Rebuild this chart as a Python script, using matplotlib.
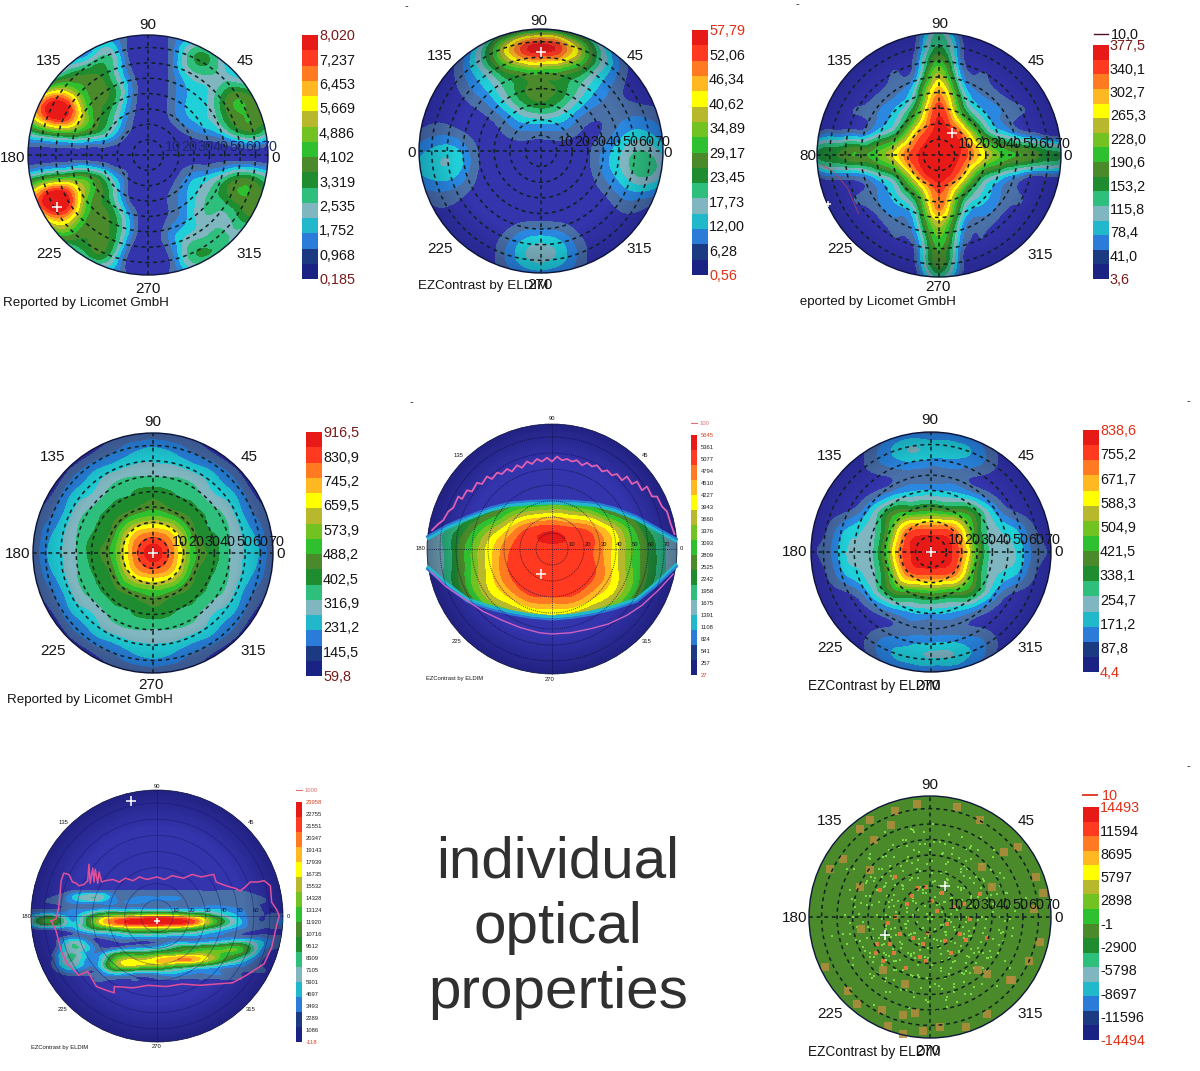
import numpy as np
import matplotlib
matplotlib.use('Agg')
import matplotlib.pyplot as plt
from matplotlib.colors import LinearSegmentedColormap
from matplotlib.patches import Circle, Polygon, Rectangle
from matplotlib.tri import Triangulation, UniformTriRefiner

W, H = 1200, 1071
plt.rcParams['font.family'] = ['Liberation Sans', 'DejaVu Sans']

# colour bands, bottom to top
BAR_COLORS = ['#1a2384', '#1b3a82', '#2a7cd8', '#22b8cc', '#7fb6bf', '#2fbf7c', '#1f8c30', '#4a8a2a',
              '#2fc030', '#72c222', '#b8b82c', '#ffff00', '#ffb822', '#ff7a20', '#ff3a20', '#e81a18']
FIELD_COLORS = ['#3434ac', '#4a70a8', '#2a88e0', '#20d0d8'] + BAR_COLORS[4:]

# colour bar labels
TICKS_1 = ['8,020', '7,237', '6,453', '5,669', '4,886', '4,102', '3,319', '2,535', '1,752', '0,968', '0,185']
TICKS_2 = ['57,79', '52,06', '46,34', '40,62', '34,89', '29,17', '23,45', '17,73', '12,00', '6,28', '0,56']
TICKS_3 = ['377,5', '340,1', '302,7', '265,3', '228,0', '190,6', '153,2', '115,8', '78,4', '41,0', '3,6']
TICKS_4 = ['916,5', '830,9', '745,2', '659,5', '573,9', '488,2', '402,5', '316,9', '231,2', '145,5', '59,8']
TICKS_5 = ['5645', '5361', '5077', '4794', '4510', '4227', '3943', '3660', '3376', '3093', '2809', '2525',
           '2242', '1958', '1675', '1391', '1108', '824', '541', '257', '27']
TICKS_6 = ['838,6', '755,2', '671,7', '588,3', '504,9', '421,5', '338,1', '254,7', '171,2', '87,8', '4,4']
TICKS_7 = ['23958', '22755', '21551', '20347', '19143', '17939', '16735', '15532', '14328', '13124', '11920',
           '10716', '9512', '8309', '7105', '5901', '4697', '3493', '2289', '1086', '-118']
TICKS_8 = ['14493', '11594', '8695', '5797', '2898', '-1', '-2900', '-5798', '-8697', '-11596', '-14494']

GRID_X = [-1, -.83, -.67, -.5, -.33, -.17, 0, .17, .33, .5, .67, .83, 1]
GRID_Y = [1, .83, .67, .5, .33, .17, 0, -.17, -.33, -.5, -.67, -.83, -1]

# band at the grid crossings
FIELD_1 = [
    [0, 0, 0, 1, 2, 1, 0, 1, 2, 2, 1, 0, 0],
    [0, 0, 2, 3, 5, 1, 0, 1, 5, 6, 3, 0, 0],
    [0, 3, 6, 7, 6, 2, 0, 1, 4, 5, 4, 2, 0],
    [7, 12, 12, 8, 7, 3, 0, 1, 3, 4, 7, 7, 5],
    [10, 15, 15, 9, 6, 2, 0, 1, 3, 4, 7, 8, 7],
    [4, 6, 7, 6, 4, 1, 0, 0, 1, 2, 4, 6, 4],
    [0, 0, 0, 0, 0, 0, 0, 0, 0, 0, 0, 0, 0],
    [4, 6, 7, 7, 4, 1, 0, 0, 2, 3, 5, 6, 4],
    [11, 15.5, 15, 9, 6, 1, 0, 1, 3, 5, 7, 8, 6],
    [8, 13, 13, 8, 7, 3, 0, 1, 3, 5, 5, 7, 5],
    [0, 6, 8, 7, 7, 3, 0, 2, 4, 5, 5, 3, 0],
    [0, 0, 3, 6, 6, 1, 0, 1, 5, 6, 4, 0, 0],
    [0, 0, 0, 1, 2, 1, 0, 1, 2, 2, 1, 0, 0],
]
FIELD_2 = [
    [0, 0, 0, 0, 2, 5, 6, 5, 2, 0, 0, 0, 0],
    [0, 0, 1, 4.5, 10, 14, 15.5, 14, 10, 4.5, 1, 0, 0],
    [0, 0, 1.5, 4, 7, 8.5, 9, 8.5, 7, 4, 1.5, 0, 0],
    [0, 0, 1, 2.5, 4.5, 6.5, 7.5, 6.5, 4.5, 2.5, 1, 0, 0],
    [0, .5, .5, 1, 2.5, 4.5, 5.5, 4.5, 2.5, 1.5, 1.5, 1.5, 1],
    [1, 1.5, 1, .5, 1, 2, 2, 2, 1, 1, 2.5, 3, 2],
    [2.5, 3.5, 3, .8, .3, .3, .3, .3, .5, 2, 4, 5, 3.5],
    [3, 3.7, 3, .8, .3, .3, .3, .3, .3, 2, 4, 5.5, 4],
    [1.5, 2, 1.5, .5, .3, .3, .3, .3, .3, 1, 2.5, 3, 2],
    [0, .8, .5, .3, .3, .3, .3, .3, .3, .3, 1, .8, 0],
    [0, 0, 0, .3, .8, 2, 2.5, 2, .8, .3, 0, 0, 0],
    [0, 0, 0, 0, 1.5, 3.5, 4.5, 3.5, 1.5, 0, 0, 0, 0],
    [0, 0, 0, 0, 1, 2, 2.5, 2, 1, 0, 0, 0, 0],
]
FIELD_3 = [
    [0, 0, 0, 0, 0, 1, 5, 1, 0, 0, 0, 0, 0],
    [0, 0, 0, 0, 0, 2, 7, 2, 0, 0, 0, 0, 0],
    [0, 0, 0, 0, 1, 3, 10, 3, 1, 0, 0, 0, 0],
    [0, 0, 0, 1, 2, 6, 13, 6, 2, 1, 0, 0, 0],
    [0, 0, 1, 2, 4, 9, 15, 9, 4, 2, 1, 0, 0],
    [1, 2, 2, 4, 7, 13, 15.5, 14, 8, 4, 2, 1, 0],
    [6, 7, 8, 9, 12, 15, 15.5, 15, 12, 9, 8, 7, 6],
    [1, 2, 2, 4, 7, 13, 15.5, 13, 7, 4, 2, 1, 1],
    [0, 0, 1, 2, 4, 8, 14, 8, 4, 2, 1, 0, 0],
    [0, 0, 0, 1, 2, 5, 12, 5, 2, 1, 0, 0, 0],
    [0, 0, 0, 0, 1, 3, 9, 3, 1, 0, 0, 0, 0],
    [0, 0, 0, 0, 0, 2, 8, 2, 0, 0, 0, 0, 0],
    [0, 0, 0, 0, 0, 1, 5, 1, 0, 0, 0, 0, 0],
]
FIELD_4 = [
    [0, 0, 0, 0, 1, 1, 1, 1, 1, 0, 0, 0, 0],
    [0, 0, 0, 1, 2, 3, 3.5, 3, 2, 1, 0, 0, 0],
    [0, 0, 1.5, 3, 4, 4.6, 4.6, 4.6, 4, 3, 1.5, 0, 0],
    [0, 1, 3, 4, 5.5, 6, 6.5, 6, 5.5, 4, 3, 1, 0],
    [1, 2, 4, 5.5, 6.5, 7.5, 8.5, 7.5, 6.5, 5.5, 4, 2, 1],
    [1, 3, 4.6, 6, 7.5, 11.5, 13, 11.5, 7.5, 6, 4.6, 3, 1],
    [1, 3.5, 4.6, 6.5, 8.5, 13, 15.5, 13, 8.5, 6.5, 4.6, 3.5, 1],
    [1, 3, 4.6, 6, 7.5, 11.5, 13, 11.5, 7.5, 6, 4.6, 3, 1],
    [1, 2, 4, 5.5, 6.5, 7.5, 8.5, 7.5, 6.5, 5.5, 4, 2, 1],
    [0, 1, 3, 4, 5.5, 6, 6.5, 6, 5.5, 4, 3, 1, 0],
    [0, 0, 1.5, 3, 4, 4.6, 4.6, 4.6, 4, 3, 1.5, 0, 0],
    [0, 0, 0, 1, 2, 3, 3.5, 3, 2, 1, 0, 0, 0],
    [0, 0, 0, 0, 1, 1, 1, 1, 1, 0, 0, 0, 0],
]
FIELD_5 = [
    [3, 3, 3, 3, 3, 3, 3, 3, 3, 3, 3, 3, 3],
    [3, 3, 3, 3, 3, 3, 3, 3, 3, 3, 3, 3, 3],
    [3, 3, 3, 3, 3, 3, 3, 3, 3, 3, 3, 3, 3],
    [3, 3, 3, 4, 5, 6, 6, 6, 5, 4, 3, 3, 3],
    [3, 3, 5, 6, 8, 9, 9.5, 9, 8, 6, 5, 3, 3],
    [3.5, 5, 7, 9.5, 12, 14, 14.5, 14, 13, 10.5, 7.5, 5, 3.5],
    [4, 5.5, 8.5, 11.5, 14, 14.5, 14.6, 14.5, 14, 11.5, 8.5, 6, 4],
    [4, 5.5, 8.5, 11.5, 14.2, 14.6, 14.6, 14.6, 14.2, 11.5, 8.5, 6, 4],
    [3.5, 5, 8, 11, 13, 14.5, 14.6, 14.5, 13, 11, 8, 5, 3.5],
    [3, 3, 5, 8, 9.5, 11, 11.5, 11, 9.5, 8, 5, 3, 3],
    [3, 3, 3, 4, 5, 6, 7, 6, 5, 4, 3, 3, 3],
    [3, 3, 3, 3, 3, 3, 3, 3, 3, 3, 3, 3, 3],
    [3, 3, 3, 3, 3, 3, 3, 3, 3, 3, 3, 3, 3],
]
FIELD_6 = [
    [0, 0, 0, 0, 1, 1.5, 1.5, 1.5, 1, 0, 0, 0, 0],
    [0, 0, 0, 1.5, 3, 4, 3.5, 3.5, 3, 1.5, 0, 0, 0],
    [0, 0, 0, 1, 1.5, 1.7, 1.5, 1.7, 1.5, 1, 0, 0, 0],
    [0, 0, 0, .8, 2, 3, 3.2, 3, 2, .8, 0, 0, 0],
    [0, .5, 1.2, 3.5, 7, 8, 8.5, 8, 7, 3.5, 1.2, .5, 0],
    [.5, 1.5, 3.5, 4.5, 9, 14, 14.5, 14, 9, 4.5, 3.5, 1.5, .5],
    [1, 2, 4.2, 4.6, 10.5, 15, 15.5, 15, 10.5, 4.6, 4.2, 2, 1],
    [.5, 1.5, 3.5, 4.5, 9, 14, 14.5, 14, 9, 4.5, 3.5, 1.5, .5],
    [0, .5, 1.2, 3.5, 7, 8, 8.5, 8, 7, 3.5, 1.2, .5, 0],
    [0, 0, 0, .8, 2, 3, 3.2, 3, 2, .8, 0, 0, 0],
    [0, 0, 0, 1, 1.5, 1.7, 1.5, 1.7, 1.5, 1, 0, 0, 0],
    [0, 0, 0, 1.5, 3, 3.5, 4, 4, 3, 1.5, 0, 0, 0],
    [0, 0, 0, 0, 1, 1.5, 1.5, 1.5, 1, 0, 0, 0, 0],
]
GRID_Y_7 = [.25, .2, .15, .1, .05, 0, -.05, -.1, -.15, -.2, -.25, -.3, -.35, -.4, -.45, -.5, -.55]
FIELD_7 = [
    [0, 0, 0, 0, 0, 0, 0, 0, 0, 0, 0, 0, 0],
    [0, 0, 1, 1, 1, 1, 1, 1, 1, 1, 1, 0, 0],
    [0, 1, 3, 5, 2, 2, 2, 2, 1.5, 1.5, 1.5, 1, 0],
    [0, 1, 2, 2, 2, 2, 1.5, 1.5, 1.5, 1.5, 1, 1, 0],
    [1, 1, 2, 2.5, 3, 3, 3, 3, 3, 3, 2, 1, 0],
    [3, 5, 2.5, 7, 10, 11, 12, 11, 9, 5, 2.5, 1, 2],
    [4, 8, 3, 9, 14, 15.5, 16, 15.5, 13, 7, 3, 1, 3],
    [1, 2, 2.5, 6, 8, 10, 10, 9, 7, 4, 2, 1, 1],
    [0, 0, 1, 2, 3, 4, 4, 3.5, 3, 2, 1, 1, 1],
    [0, 0, 4, 1, 1, 1, 1, 2, 2, 3, 4, 3, 1],
    [0, 0, 5, 2, 1, 2, 3, 6, 7, 8, 8, 3, 1],
    [0, 1, 5, 2, 6, 7, 8, 9, 10, 9, 7, 2, 0],
    [0, 1, 5, 2, 9, 11, 12, 13, 12, 8, 4, 1, 0],
    [0, 1, 4, 2, 9, 10, 9, 7, 5, 3, 2, 1, 0],
    [0, 0, 2, 1, 4, 3, 3, 3, 2, 2, 1, 1, 0],
    [0, 0, 0, 1, 1, 1, 1, 1, 1, 1, 1, 0, 0],
    [0, 0, 0, 0, 0, 0, 0, 0, 0, 0, 0, 0, 0],
]
FIELD_8 = [[7.5] * 13 for _ in GRID_Y]

# lens outline of map 5
LENS_X = [-1, -.84, -.68, -.5, -.34, -.17, 0, .17, .34, .5, .68, .84, 1]
LENS_TOP = [.08, .17, .24, .31, .35, .365, .37, .365, .35, .31, .24, .15, .06]
LENS_BOTTOM = [-.14, -.28, -.40, -.46, -.50, -.53, -.545, -.53, -.50, -.46, -.40, -.27, -.12]

CURVE_5A_X = [-.96, -.91, -.87, -.83, -.79, -.75, -.72, -.68, -.64, -.6, -.56, -.52, -.48, -.44, -.4, -.36, -.32, -.28,
              -.24, -.2, -.16, -.12, -.08, -.04, 0, .04, .08, .12, .16, .2, .24, .28, .32, .36, .4, .44, .48, .52, .56,
              .6, .64, .68, .72, .76, .8, .84, .88, .92, .95, .98]
CURVE_5A_Y = [.15, .2, .23, .3, .33, .42, .4, .47, .46, .53, .52, .58, .56, .61, .6, .64, .62, .67, .65, .7, .68, .72,
              .7, .73, .7, .74, .71, .72, .7, .71, .67, .69, .66, .67, .62, .63, .59, .6, .55, .58, .52, .54, .47, .5,
              .42, .42, .34, .3, .2, .12]
CURVE_5B_X = [-.97, -.85, -.7, -.55, -.4, -.25, -.1, 0, .15, .3, .45, .6, .72, .85, .97]
CURVE_5B_Y = [-.18, -.3, -.4, -.5, -.57, -.63, -.67, -.68, -.67, -.64, -.6, -.53, -.45, -.33, -.2]
CURVE_7_X = [-.84, -.8, -.78, -.76, -.74, -.7, -.67, -.64, -.62, -.58, -.55, -.54, -.53, -.51, -.5, -.49, -.47, -.46,
             -.44, -.41, -.35, -.3, -.25, -.19, -.14, -.08, 0, .06, .12, .21, .28, .35, .45, .47, .52, .58, .62, .66,
             .7, .74, .8, .85, .9, .91, .95, .97, .95, .91, .85, .71, .6, .47, .34, .2, .07, -.07, -.19, -.34, -.34,
             -.4, -.48, -.55, -.62, -.71, -.76, -.8, -.84]
CURVE_7_Y = [-.04, -.02, .07, .28, .34, .33, .27, .26, .24, .25, .28, .41, .26, .38, .27, .37, .26, .35, .27, .28, .29,
             .27, .3, .28, .31, .29, .31, .29, .32, .3, .33, .31, .33, .27, .25, .23, .22, .2, .23, .27, .27, .28, .24,
             .11, .05, 0, -.07, -.25, -.38, -.47, -.53, -.54, -.55, -.54, -.56, -.55, -.57, -.56, -.61, -.59, -.56,
             -.44, -.47, -.38, -.28, -.12, -.04]

# speckles of map 8, unit circle coordinates
SPECK_ORANGE_X = [-.29, -.5, -.58, -.46, -.32, -.11, .22, .41, .61, .73, .43, .88, .93, .86, .91, .82, .68, .47, .3,
                  .08, -.06, -.22, -.35, -.4, -.22, -.12, -.68, -.6, -.87, -.83, -.72, -.5, -.29, -.41, -.58, -.19,
                  -.28, -.03, .06, .14, .25, .3, .4, .47, -.39, -.33, -.25, -.14, -.06, -.08, -.03, .17, -.21, -.39,
                  -.57, -.44, .51, .41, .28, .47, .66, -.15, -.1, .02, .1, .2, -.45, -.35, -.3, -.02, .12, .33, -.2]
SPECK_ORANGE_Y = [.88, .8, .73, .64, .76, .93, .91, .8, .54, .58, .41, .33, .2, .07, -.21, -.36, -.52, -.8, -.91,
                  -.91, -.94, -.97, -.9, -.77, -.81, -.79, -.61, -.72, -.41, .4, .48, .39, .33, .22, .25, .11, 0,
                  .25, .05, -.06, -.14, -.19, -.44, -.47, -.36, -.22, -.14, -.17, -.22, -.33, -.36, -.3, -.55, -.44,
                  -.1, -.22, .25, .19, .11, -.17, -.52, .17, .24, .13, .2, .08, -.3, -.05, -.3, -.13, -.2, -.02, -.42]
SPECK_GREEN_X = [-.7, -.62, -.55, -.48, -.4, -.34, -.26, -.18, -.1, -.02, .06, .14, .22, .3, .38, .46, .54, .62, .7,
                 -.66, -.58, -.5, -.42, -.36, -.28, -.2, -.12, -.04, .04, .12, .2, .28, .36, .44, .52, .6, .68,
                 -.6, -.52, -.44, -.36, -.3, -.22, -.14, -.06, .02, .1, .18, .26, .34, .42, .5, .58, .64,
                 -.54, -.46, -.38, -.3, -.24, -.16, -.08, 0, .08, .16, .24, .32, .4, .48, .56,
                 -.5, -.4, -.32, -.22, -.1, .02, .14, .26, .38, .5, -.44, -.3, -.16, 0, .16, .3, .44,
                 -.3, -.1, .1, .3, -.2, 0, .2, -.64, -.5, .52, .66, -.08, .08, -.36, .36, -.14, .14]
SPECK_GREEN_Y = [.02, .14, -.04, .1, -.02, .12, .02, -.03, .07, -.02, .1, -.01, .06, -.04, .08, -.02, .09, -.03, .05,
                 -.14, -.2, -.12, -.17, -.1, -.15, -.09, -.13, -.17, -.1, -.12, -.08, -.14, -.09, -.13, -.18, -.12, -.16,
                 .24, .3, .22, .28, .18, .23, .16, .2, .14, .19, .16, .22, .17, .24, .18, .26, .2,
                 -.28, -.33, -.3, -.36, -.26, -.32, -.27, -.3, -.26, -.34, -.28, -.33, -.26, -.34, -.3,
                 .36, .4, .34, .38, .32, .36, .31, .37, .33, .39, -.46, -.44, -.48, -.43, -.47, -.45, -.42,
                 .5, .47, .52, .46, -.6, -.58, -.62, -.34, .48, .5, -.42, .6, .62, -.62, -.58, .72, -.74]

# layout in reference pixels
MAPS = [
    dict(field=FIELD_1, cx=148, cy=155, r=120),
    dict(field=FIELD_2, cx=541, cy=151, r=122),
    dict(field=FIELD_3, cx=939, cy=155, r=122),
    dict(field=FIELD_4, cx=153, cy=553, r=120),
    dict(field=FIELD_5, cx=552, cy=549, r=125),
    dict(field=FIELD_6, cx=931, cy=552, r=120),
    dict(field=FIELD_7, cx=157, cy=916, r=126),
    dict(field=FIELD_8, cx=930, cy=917, r=121),
]
BARS = [(302, 35, 279, TICKS_1), (692, 30, 275, TICKS_2), (1093, 45, 279, TICKS_3), (306, 432, 676, TICKS_4),
        (691, 435, 675, TICKS_5), (1083, 430, 672, TICKS_6), (296, 802, 1042, TICKS_7), (1083, 807, 1040, TICKS_8)]

fig = plt.figure(figsize=(12, 10.71), dpi=100)
over = fig.add_axes([0, 0, 1, 1], zorder=5)
over.set_xlim(0, W)
over.set_ylim(H, 0)
over.axis('off')
over.patch.set_alpha(0)


def put(x, y, s, size=11, color='#151515', ha='center'):
    over.text(x, y + size * .12, s, fontsize=size, color=color, ha=ha, va='center')


def draw_map(cfg, grid_y=GRID_Y):
    cx, cy, r = cfg['cx'], cfg['cy'], cfg['r']
    pad = 3 / r
    ax = fig.add_axes([(cx - r * (1 + pad)) / W, 1 - (cy + r * (1 + pad)) / H,
                       2 * r * (1 + pad) / W, 2 * r * (1 + pad) / H])
    ax.set_xlim(-1 - pad, 1 + pad)
    ax.set_ylim(-1 - pad, 1 + pad)
    ax.axis('off')
    disc = Circle((0, 0), 1, fc=FIELD_COLORS[0], ec='none')
    ax.add_patch(disc)
    xx, yy = np.meshgrid(GRID_X, grid_y)
    tri = Triangulation(xx.ravel(), yy.ravel())
    fine, z = UniformTriRefiner(tri).refine_field(np.array(cfg['field'], dtype=float).ravel(), subdiv=3)
    cs = ax.tricontourf(fine, np.clip(z, .01, 15.99), levels=np.arange(17), colors=FIELD_COLORS)
    cs.set_clip_path(disc)
    return ax, cs, disc


def polar_grid(ax, color='#102020', lw=1.1, dash=(2.5, 2.5), alpha=1, spokes=(0, 90)):
    t = np.linspace(0, 2 * np.pi, 240)
    for k in range(1, 8):
        ax.plot(k * .128 * np.cos(t), k * .128 * np.sin(t), color=color, lw=lw, ls=(0, dash), alpha=alpha)
    for a in spokes:
        c, s = np.cos(np.radians(a)), np.sin(np.radians(a))
        ax.plot([-c, c], [-s, s], color=color, lw=lw, ls=(0, dash), alpha=alpha)


def edge_shade(ax, disc, strength=.35):
    # maps get darker towards the rim
    lims = ax.get_xlim()
    g = np.linspace(-1, 1, 200)
    rr = np.hypot(*np.meshgrid(g, g))
    cmap = LinearSegmentedColormap.from_list('rim', [(0, 0, .2, 0), (0, 0, .2, 0), (0, 0, .2, strength)])
    im = ax.imshow(rr, extent=(-1, 1, -1, 1), cmap=cmap, vmin=.4, vmax=1, zorder=1.5, aspect='auto')
    im.set_clip_path(disc)
    ax.set_xlim(lims)
    ax.set_ylim(lims)


def cross(ax, x, y, size=7):
    ax.plot([x], [y], marker='+', color='white', ms=size, mew=1.1)


axes = []
for i, cfg in enumerate(MAPS):
    ax, cs, disc = draw_map(cfg, GRID_Y_7 if i == 6 else GRID_Y)
    axes.append((ax, disc))

# map 5: the field only lives inside the lens
ax5, disc5 = axes[4]
lens = np.column_stack([LENS_X + LENS_X[::-1], LENS_TOP + LENS_BOTTOM[::-1]])
for c in ax5.collections:
    c.set_clip_path(Polygon(lens, transform=ax5.transData))
ax5.plot(LENS_X, LENS_TOP, color=BAR_COLORS[3], lw=2.5, solid_capstyle='butt')
ax5.plot(LENS_X, LENS_BOTTOM, color=BAR_COLORS[3], lw=2.5, solid_capstyle='butt')
ax5.plot(LENS_X, [v + .02 for v in LENS_TOP], color=BAR_COLORS[2], lw=1.5)
ax5.plot(LENS_X, [v - .02 for v in LENS_BOTTOM], color=BAR_COLORS[2], lw=1.5)
for i in (4, 6):
    edge_shade(axes[i][0], axes[i][1])
for i in (1, 2, 3, 5):
    edge_shade(axes[i][0], axes[i][1], .22)

for i in (0, 1, 2, 3, 5, 7):
    polar_grid(axes[i][0])
polar_grid(axes[4][0], color='#08083a', lw=.7, dash=(1, 1.2), alpha=.75)
polar_grid(axes[6][0], color='#101060', lw=.6, dash=(4, .1), alpha=.45)

ax8 = axes[7][0]
gx, gy = np.array(SPECK_GREEN_X), np.array(SPECK_GREEN_Y)
ax8.scatter(np.r_[gx, -gy, -gx * .95, gy * 1.1], np.r_[gy, gx, -gy * .95, -gx * 1.1], s=4, marker='s',
            color='#7cd848', linewidths=0)
ox, oy = np.array(SPECK_ORANGE_X), np.array(SPECK_ORANGE_Y)
inner = np.hypot(ox, oy) < .55
ax8.scatter(ox[inner], oy[inner], s=12, marker='s', color='#dc7a3e', linewidths=0)
ax8.scatter(ox[~inner], oy[~inner], s=26, marker='s', color='#b28c3c', linewidths=0, alpha=.85)

axes[4][0].plot(CURVE_5A_X, CURVE_5A_Y, color='#e060b0', lw=1.3)
axes[4][0].plot(CURVE_5B_X, CURVE_5B_Y, color='#d060c0', lw=1)
axes[6][0].plot(CURVE_7_X, CURVE_7_Y, color='#e0509a', lw=1.1)

for i, (ax, disc) in enumerate(axes):
    ax.add_patch(Circle((0, 0), 1, fc='none', ec='#10183a', lw=1 if i not in (4, 6) else .5))

cross(axes[0][0], -.76, -.43)
cross(axes[1][0], 0, .81)
cross(axes[2][0], .11, .18)
cross(axes[2][0], -.91, -.4, 4)
cross(axes[3][0], 0, 0)
cross(axes[4][0], -.09, -.2)
cross(axes[5][0], 0, 0)
cross(axes[6][0], -.21, .91)
cross(axes[6][0], 0, -.04, 5)
cross(axes[7][0], .12, .26)
cross(axes[7][0], -.37, -.15)

# thin red arc on map 3
axes[2][0].plot([-.96, -.86, -.75, -.66], [-.08, -.14, -.27, -.48], color='#c04050', lw=.7, alpha=.7)

# colour bars
for n, (bx, top, bottom, ticks) in enumerate(BARS):
    small = n in (4, 6)
    bw = 6 if small else 16
    bax = fig.add_axes([bx / W, 1 - bottom / H, bw / W, (bottom - top) / H])
    for k, col in enumerate(BAR_COLORS):
        bax.barh(k + .5, 1, height=1, color=col)
    bax.set_xlim(0, 1)
    bax.set_ylim(0, 16)
    bax.axis('off')
    ys = np.linspace(top, bottom, len(ticks))
    for j, (y, t) in enumerate(zip(ys, ticks)):
        end = j in (0, len(ticks) - 1)
        if small:
            put(bx + bw + 4, y, t, size=4.2, color='#d84020' if end else '#202020', ha='left')
        else:
            col = ('#e03018' if n in (1, 5, 7) else '#7a1a1a') if end else '#151515'
            put(bx + bw + 1, y, t, size=10.4, color=col, ha='left')

# line legends
over.plot([1094, 1108], [34, 34], color='#501020', lw=1)
put(1111, 34, '10,0', size=10.4, ha='left')
over.plot([1083, 1097], [795, 795], color='#e03018', lw=1.3)
put(1102, 795, '10', size=10.4, color='#e03018', ha='left')
over.plot([691, 697], [423, 423], color='#e07070', lw=.8)
put(700, 423, '100', size=4.2, color='#e07070', ha='left')
over.plot([296, 302], [790, 790], color='#e07070', lw=.8)
put(305, 790, '1000', size=4.2, color='#e07070', ha='left')

# angle labels
ANGLES = ['90', '135', '45', '180', '0', '225', '315', '270']
ANGLES_2 = ['90', '135', '45', '0', '0', '225', '315', '270']
ANGLES_3 = ['90', '135', '45', '80', '0', '225', '315', '270']
ANGLE_POS = [
    [(148, 24), (49, 60), (245, 60), (13, 157), (276, 157), (49, 253), (249, 253), (148, 288)],
    [(539, 20), (440, 55), (635, 55), (412, 152), (668, 152), (440, 248), (639, 248), (540, 284)],
    [(940, 23), (840, 60), (1036, 60), (808, 155), (1068, 155), (840, 248), (1040, 254), (938, 286)],
    [(153, 421), (53, 456), (249, 456), (18, 553), (281, 553), (53, 650), (253, 650), (151, 684)],
    [(552, 418), (458, 455), (645, 455), (420, 548), (681, 548), (457, 641), (647, 641), (550, 679)],
    [(930, 419), (830, 455), (1026, 455), (795, 551), (1059, 551), (830, 647), (1030, 647), (928, 685)],
    [(157, 786), (63, 822), (251, 822), (26, 916), (288, 916), (63, 1009), (251, 1009), (157, 1046)],
    [(930, 784), (830, 820), (1026, 820), (795, 917), (1059, 917), (830, 1013), (1030, 1013), (928, 1050)],
]
for n, pos in enumerate(ANGLE_POS):
    names = ANGLES_2 if n == 1 else ANGLES_3 if n == 2 else ANGLES
    for (x, y), t in zip(pos, names):
        put(x, y, t, size=4.2 if n in (4, 6) else 11)

# radius labels squeezed on the 0 degree line
RADII = ['10', '20', '30', '40', '50', '60', '70']
RADII_POS = [(173, 146, 16, 10.4, '#1a2a6a'), (566, 141, 16, 10.4, '#151515'), (966, 143, 16, 10.4, '#151515'),
             (180, 541, 16, 10.4, '#151515'), (572, 544, 15.8, 4.2, '#151515'), (956, 539, 16, 10.4, '#151515'),
             (176, 910, 16, 4.2, '#10104a'), (956, 904, 16, 10.4, '#151515')]
for x0, y, step, size, col in RADII_POS:
    for k, t in enumerate(RADII):
        put(x0 + k * step, y, t, size=size, color=col)

# footers
put(3, 302, 'Reported by Licomet GmbH', size=9.6, ha='left')
put(418, 285, 'EZContrast by ELDIM', size=9.6, ha='left')
put(790, 301, 'Reported by Licomet GmbH', size=9.6, ha='left')
over.add_patch(Rectangle((780, 292), 19, 18, fc='white', ec='none', zorder=6))
put(7, 699, 'Reported by Licomet GmbH', size=9.6, ha='left')
put(426, 678, 'EZContrast by ELDIM', size=4.2, ha='left')
put(808, 685, 'EZContrast by ELDIM', size=9.8, ha='left')
put(31, 1047, 'EZContrast by ELDIM', size=4.2, ha='left')
put(808, 1051, 'EZContrast by ELDIM', size=9.8, ha='left')

# big caption
put(558, 857, 'individual', size=42, color='#303030')
put(558, 923, 'optical', size=42, color='#303030')
put(558, 988, 'properties', size=42, color='#303030')

# stray marks of the scan
for x, y in [(406, 5), (797, 3), (1188, 400), (411, 401), (1188, 765)]:
    put(x, y, '-', size=8, color='#202020')

fig.savefig('out.png', dpi=100)
